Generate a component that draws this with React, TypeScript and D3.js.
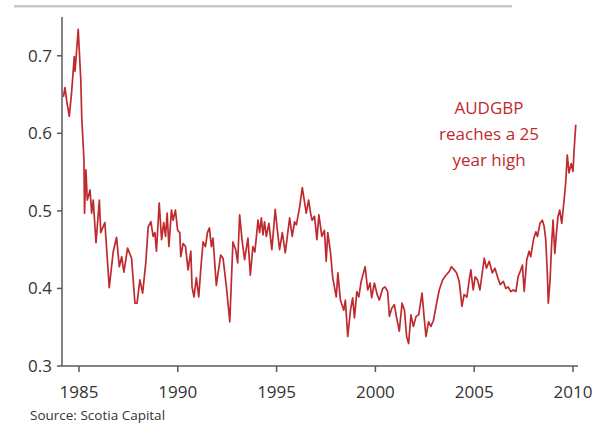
import React from "react";
import * as d3 from "d3";

const years: number[] = [
  1984.21, 1984.29, 1984.39, 1984.51, 1984.63, 1984.76, 1984.80, 1984.96, 1985.09, 1985.14,
  1985.25, 1985.28, 1985.35, 1985.42, 1985.56, 1985.64, 1985.72, 1985.86, 1986.03, 1986.10,
  1986.31, 1986.53, 1986.73, 1986.90, 1987.04, 1987.16, 1987.27, 1987.46, 1987.66, 1987.83,
  1987.94, 1988.08, 1988.22, 1988.38, 1988.50, 1988.64, 1988.75, 1988.84, 1988.92, 1989.06,
  1989.18, 1989.29, 1989.38, 1989.46, 1989.55, 1989.68, 1989.76, 1989.88, 1989.99, 1990.10,
  1990.15, 1990.27, 1990.39, 1990.52, 1990.66, 1990.72, 1990.82, 1990.94, 1991.06, 1991.16,
  1991.28, 1991.40, 1991.50, 1991.60, 1991.70, 1991.78, 1991.95, 1992.17, 1992.29, 1992.46,
  1992.63, 1992.79, 1992.93, 1993.03, 1993.13, 1993.25, 1993.38, 1993.55, 1993.67, 1993.80,
  1993.90, 1994.06, 1994.14, 1994.23, 1994.31, 1994.39, 1994.48, 1994.61, 1994.76, 1994.93,
  1995.04, 1995.15, 1995.29, 1995.44, 1995.66, 1995.79, 1995.91, 1996.00, 1996.16, 1996.30,
  1996.41, 1996.50, 1996.62, 1996.72, 1996.80, 1996.92, 1997.04, 1997.14, 1997.20, 1997.29,
  1997.42, 1997.51, 1997.59, 1997.73, 1997.84, 1998.02, 1998.10, 1998.23, 1998.40, 1998.48,
  1998.60, 1998.74, 1998.85, 1998.94, 1999.06, 1999.16, 1999.28, 1999.48, 1999.61, 1999.73,
  1999.81, 1999.95, 2000.09, 2000.20, 2000.37, 2000.49, 2000.62, 2000.71, 2000.82, 2000.96,
  2001.06, 2001.21, 2001.35, 2001.47, 2001.58, 2001.68, 2001.80, 2001.92, 2002.06, 2002.19,
  2002.36, 2002.48, 2002.56, 2002.69, 2002.81, 2002.94, 2003.10, 2003.23, 2003.40, 2003.57,
  2003.74, 2003.85, 2003.99, 2004.11, 2004.24, 2004.38, 2004.49, 2004.63, 2004.75, 2004.83,
  2004.95, 2005.05, 2005.17, 2005.29, 2005.39, 2005.51, 2005.62, 2005.76, 2005.92, 2006.05,
  2006.18, 2006.31, 2006.48, 2006.60, 2006.72, 2006.85, 2006.99, 2007.11, 2007.22, 2007.36,
  2007.44, 2007.53, 2007.66, 2007.78, 2007.86, 2008.00, 2008.12, 2008.20, 2008.33, 2008.45,
  2008.54, 2008.62, 2008.70, 2008.75, 2008.84, 2008.92, 2008.99, 2009.08, 2009.16, 2009.24,
  2009.33, 2009.43, 2009.55, 2009.63, 2009.71, 2009.80, 2009.91, 2010.00, 2010.05, 2010.14,
];

const audgbp: number[] = [
  0.647, 0.659, 0.640, 0.622, 0.654, 0.699, 0.680, 0.734, 0.669, 0.620,
  0.566, 0.497, 0.553, 0.514, 0.527, 0.497, 0.514, 0.459, 0.514, 0.472,
  0.485, 0.401, 0.447, 0.466, 0.428, 0.441, 0.421, 0.452, 0.439, 0.381,
  0.381, 0.411, 0.394, 0.433, 0.479, 0.486, 0.467, 0.472, 0.448, 0.510,
  0.463, 0.485, 0.467, 0.497, 0.454, 0.501, 0.488, 0.501, 0.475, 0.472,
  0.441, 0.458, 0.454, 0.424, 0.448, 0.402, 0.389, 0.414, 0.389, 0.424,
  0.460, 0.454, 0.472, 0.478, 0.454, 0.465, 0.404, 0.443, 0.439, 0.402,
  0.357, 0.460, 0.450, 0.433, 0.495, 0.463, 0.437, 0.465, 0.417, 0.454,
  0.447, 0.488, 0.472, 0.491, 0.469, 0.486, 0.467, 0.484, 0.450, 0.502,
  0.475, 0.450, 0.472, 0.446, 0.491, 0.467, 0.486, 0.482, 0.504, 0.530,
  0.512, 0.497, 0.514, 0.497, 0.488, 0.493, 0.463, 0.495, 0.484, 0.467,
  0.475, 0.435, 0.472, 0.446, 0.414, 0.389, 0.420, 0.385, 0.372, 0.385,
  0.338, 0.372, 0.388, 0.362, 0.396, 0.389, 0.409, 0.428, 0.398, 0.407,
  0.388, 0.407, 0.392, 0.385, 0.400, 0.402, 0.396, 0.364, 0.374, 0.379,
  0.364, 0.345, 0.381, 0.372, 0.338, 0.329, 0.366, 0.351, 0.364, 0.366,
  0.394, 0.359, 0.338, 0.357, 0.351, 0.359, 0.381, 0.398, 0.411, 0.417,
  0.422, 0.428, 0.424, 0.420, 0.409, 0.377, 0.392, 0.389, 0.411, 0.424,
  0.398, 0.415, 0.411, 0.398, 0.417, 0.439, 0.426, 0.435, 0.420, 0.426,
  0.415, 0.405, 0.409, 0.400, 0.402, 0.396, 0.398, 0.396, 0.415, 0.424,
  0.430, 0.396, 0.437, 0.448, 0.441, 0.463, 0.473, 0.467, 0.484, 0.488,
  0.480, 0.463, 0.420, 0.381, 0.411, 0.458, 0.488, 0.445, 0.471, 0.493,
  0.501, 0.484, 0.514, 0.536, 0.572, 0.549, 0.561, 0.551, 0.576, 0.611,
];

const xTicks: number[] = [1985, 1990, 1995, 2000, 2005, 2010];
const yTicks: number[] = [0.3, 0.4, 0.5, 0.6, 0.7];
const annotationLines: string[] = ["AUDGBP", "reaches a 25", "year high"];
const sourceText = "Source: Scotia Capital";

const W = 592;
const H = 425;
const FONT = "'Open Sans', 'DejaVu Sans', sans-serif";
const RED = "#bf2a2f";
const AXIS = "#5a5a5a";

export default function App() {
  const x = d3.scaleLinear().domain([1985, 2010]).range([79, 573]);
  const y = d3.scaleLinear().domain([0.3, 0.75]).range([366, 17]);
  const axisLeft = 62;
  const axisRight = 578;
  const axisBottom = y(0.3);

  const pts = years.map((yr, i) => [yr, audgbp[i]] as [number, number]);
  const line = d3
    .line<[number, number]>()
    .x((d) => x(d[0]))
    .y((d) => y(d[1]));

  return (
    <svg
      width={W}
      height={H}
      style={{ position: "absolute", left: 0, top: 0, background: "#fff" }}
    >
      <rect x={0} y={0} width={W} height={H} fill="#fff" />
      <rect x={14} y={5} width={498} height={2.5} fill="#c8c8c8" />

      {/* y axis */}
      <line x1={axisLeft} x2={axisLeft} y1={y(0.75)} y2={axisBottom} stroke={AXIS} strokeWidth={1.5} />
      {yTicks.map((t) => (
        <g key={t}>
          <line x1={axisLeft - 5} x2={axisLeft} y1={y(t)} y2={y(t)} stroke={AXIS} strokeWidth={1.5} />
          <text
            x={52}
            y={y(t)}
            dy="0.35em"
            textAnchor="end"
            fontFamily={FONT}
            fontSize={17}
            fill="#333"
          >
            {t.toFixed(1)}
          </text>
        </g>
      ))}

      {/* x axis */}
      <line x1={axisLeft} x2={axisRight} y1={axisBottom} y2={axisBottom} stroke={AXIS} strokeWidth={1.5} />
      {xTicks.map((t) => (
        <g key={t}>
          <line x1={x(t)} x2={x(t)} y1={axisBottom} y2={axisBottom + 6} stroke={AXIS} strokeWidth={1.5} />
          <text
            x={x(t)}
            y={392}
            dy="0.35em"
            textAnchor="middle"
            fontFamily={FONT}
            fontSize={17}
            fill="#333"
          >
            {t}
          </text>
        </g>
      ))}

      <path d={line(pts) || ""} fill="none" stroke={RED} strokeWidth={1.7} strokeLinejoin="round" />

      {annotationLines.map((s, i) => (
        <text
          key={s}
          x={489}
          y={108 + i * 26}
          dy="0.35em"
          textAnchor="middle"
          fontFamily={FONT}
          fontSize={17}
          fill={RED}
        >
          {s}
        </text>
      ))}

      <text x={30} y={415} dy="0.35em" fontFamily={FONT} fontSize={13.5} fill="#333">
        {sourceText}
      </text>
    </svg>
  );
}
